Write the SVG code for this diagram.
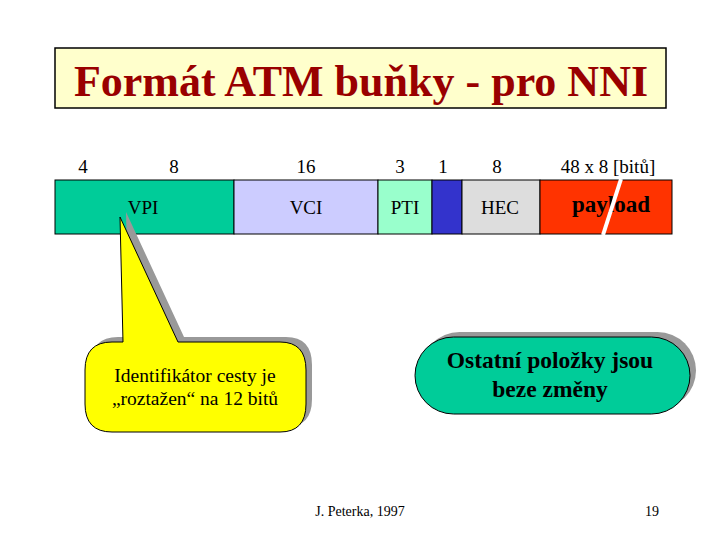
<svg xmlns="http://www.w3.org/2000/svg" width="720" height="540" viewBox="0 0 720 540" font-family="'Liberation Serif', 'Times New Roman', serif">
<style>
text{font-family:"Liberation Serif","Times New Roman",serif;fill:#000}
.num{font-size:19px;text-anchor:middle}
.lbl{font-size:19px;text-anchor:middle}
.seg{stroke:#000;stroke-width:1}
.shadow{fill:#999}
</style>
<rect width="720" height="540" fill="#fff"/>
<g id="title">
<rect x="55" y="48" width="611" height="60" fill="#FFFFCC" stroke="#000" stroke-width="1.5"/>
<text x="361" y="96" font-family="'Liberation Serif', serif" style="font-size:44px;font-weight:bold;fill:#990000;text-anchor:middle">Formát ATM buňky - pro NNI</text>
</g>
<g id="bits" font-family="'Liberation Serif', serif">
<text class="num" x="83" y="173">4</text>
<text class="num" x="174" y="173">8</text>
<text class="num" x="306" y="173">16</text>
<text class="num" x="400" y="173">3</text>
<text class="num" x="443" y="173">1</text>
<text class="num" x="497" y="173">8</text>
<text class="num" x="608" y="173">48 x 8 [bitů]</text>
</g>
<g id="vpi"><rect class="seg" x="55" y="180" width="179" height="54" fill="#00CC99"/><text class="lbl" x="143" y="214" font-family="'Liberation Serif', serif">VPI</text></g>
<g id="vci"><rect class="seg" x="234" y="180" width="144" height="54" fill="#CCCCFF"/><text class="lbl" x="306" y="214" font-family="'Liberation Serif', serif">VCI</text></g>
<g id="pti"><rect class="seg" x="378" y="180" width="54" height="54" fill="#99FFCC"/><text class="lbl" x="405" y="214" font-family="'Liberation Serif', serif">PTI</text></g>
<g id="clp"><rect class="seg" x="432" y="180" width="30" height="54" fill="#3333CC"/></g>
<g id="hec"><rect class="seg" x="462" y="180" width="78" height="54" fill="#DDDDDD"/><text class="lbl" x="500" y="214" font-family="'Liberation Serif', serif">HEC</text></g>
<g id="payload"><rect class="seg" x="540" y="180" width="132" height="54" fill="#FF3300"/>
<text x="611" y="212" font-family="'Liberation Serif', serif" style="font-size:23px;font-weight:bold;text-anchor:middle">payload</text>
<line x1="621" y1="179" x2="603" y2="235" stroke="#fff" stroke-width="4"/>
</g>
<g id="callout">
<path class="shadow" transform="translate(6,-5)" d="M120,217 L178,342 L280,342 Q306,342 306,370 L306,404 Q306,432 280,432 L112,432 Q85,432 85,404 L85,370 Q85,342 112,342 L123,342 Z"/>
<path d="M120,217 L178,342 L280,342 Q306,342 306,370 L306,404 Q306,432 280,432 L112,432 Q85,432 85,404 L85,370 Q85,342 112,342 L123,342 Z" fill="#FFFF00" stroke="#000" stroke-width="1"/>
<text x="195" y="382" font-family="'Liberation Serif', serif" style="font-size:19.5px;text-anchor:middle">Identifikátor cesty je</text>
<text x="195" y="405" font-family="'Liberation Serif', serif" style="font-size:19.5px;text-anchor:middle">„roztažen“ na 12 bitů</text>
</g>
<g id="note">
<rect class="shadow" x="421" y="332" width="275" height="77" rx="38.5"/>
<rect x="415" y="337" width="275" height="77" rx="38.5" fill="#00CC99" stroke="#000" stroke-width="1"/>
<text x="550" y="368" font-family="'Liberation Serif', serif" style="font-size:23.5px;font-weight:bold;text-anchor:middle">Ostatní položky jsou</text>
<text x="550" y="397" font-family="'Liberation Serif', serif" style="font-size:23.5px;font-weight:bold;text-anchor:middle">beze změny</text>
</g>
<g id="footer" font-family="'Liberation Serif', serif">
<text x="360" y="516" style="font-size:14px;text-anchor:middle">J. Peterka, 1997</text>
<text x="652" y="516" style="font-size:14px;text-anchor:middle">19</text>
</g>
<g id="connectors"></g>
</svg>
